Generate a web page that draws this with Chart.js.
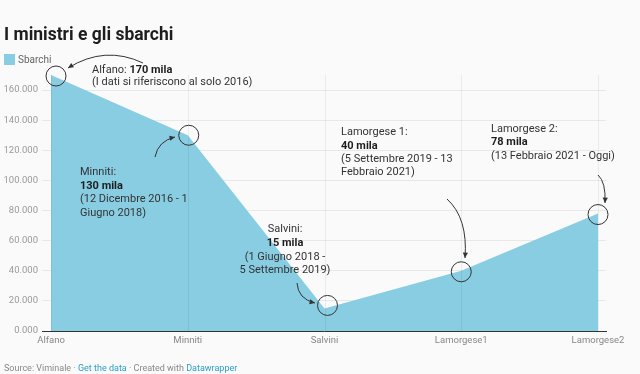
<!DOCTYPE html>
<html>
<head>
  <title>I ministri e gli sbarchi</title>
  <script src="https://cdn.jsdelivr.net/npm/chart.js"></script>
  <style>
    body { margin: 0; background: #fafafa; font-family: Roboto, sans-serif; }
    #wrap { position: relative; width: 640px; height: 374px; overflow: hidden; }
    #chartBox { position: absolute; left: 0; top: 0; width: 640px; height: 374px; }
    .title { position: absolute; left: 4px; top: 25px; font-size: 17.5px; line-height: 18px; font-weight: 700; color: #1d1d1d; white-space: nowrap; }
    .legend { position: absolute; left: 4px; top: 54px; font-size: 10px; line-height: 11px; color: #666; white-space: nowrap; }
    .legend span { display: inline-block; width: 11px; height: 11px; background: rgb(137,205,227); vertical-align: top; margin-right: 3px; }
    .footer { position: absolute; left: 4px; top: 363px; font-size: 9px; line-height: 10px; color: #888; white-space: nowrap; }
    .footer a { color: #2a9fc9; text-decoration: none; }
  </style>
</head>
<body>
<div id="wrap">
  <div id="chartBox"><canvas id="sbarchiChart"></canvas></div>
  <div class="title">I ministri e gli sbarchi</div>
  <div class="legend"><span></span>Sbarchi</div>
  <div class="footer">Source: Viminale · <a>Get the data</a> · Created with <a>Datawrapper</a></div>
</div>

<script>
  // data
  const ministri = ['Alfano', 'Minniti', 'Salvini', 'Lamorgese1', 'Lamorgese2'];
  const sbarchi = [170000, 130000, 15000, 40000, 78000];
  const yTicks = [0, 20000, 40000, 60000, 80000, 100000, 120000, 140000, 160000];

  const fillColor = 'rgb(137,205,227)';

  // notes next to each point: text lines, [text, bold] parts
  const notes = [
    { i: 0, dx: 5, dy: 1, align: 'left', x: 92, lines: [
        [70, [['Alfano: ', false], ['170 mila', true]]],
        [82, [['(I dati si riferiscono al solo 2016)', false]]]
      ], arrow: [143, 63, 105, 45, 68, 68] },
    { i: 1, dx: 1, dy: 0, align: 'left', x: 80, lines: [
        [172, [['Minniti:', false]]],
        [186, [['130 mila', true]]],
        [199, [['(12 Dicembre 2016 - 1', false]]],
        [213, [['Giugno 2018)', false]]]
      ], arrow: [155, 157, 158, 141, 175, 137] },
    { i: 2, dx: 3, dy: -3, align: 'center', x: 285, lines: [
        [229, [['Salvini:', false]]],
        [243, [['15 mila', true]]],
        [257, [['(1 Giugno 2018 -', false]]],
        [270, [['5 Settembre 2019)', false]]]
      ], arrow: [297, 283, 298, 299, 315, 303] },
    { i: 3, dx: 0, dy: 1, align: 'left', x: 341, lines: [
        [132, [['Lamorgese 1:', false]]],
        [146, [['40 mila', true]]],
        [159, [['(5 Settembre 2019 - 13', false]]],
        [172, [['Febbraio 2021)', false]]]
      ], arrow: [447, 199, 468, 218, 465, 258] },
    { i: 4, dx: 0, dy: 1, align: 'left', x: 491, lines: [
        [129, [['Lamorgese 2:', false]]],
        [142, [['78 mila', true]]],
        [156, [['(13 Febbraio 2021 - Oggi)', false]]]
      ], arrow: [598, 175, 606, 182, 605, 203] }
  ];

  const vGrid = {
    id: 'vGrid',
    afterDatasetsDraw(chart) {
      const ctx = chart.ctx, x = chart.scales.x, y = chart.scales.y;
      ctx.save();
      ctx.strokeStyle = 'rgba(0,0,0,0.06)';
      ctx.lineWidth = 1;
      const top = y.getPixelForValue(Math.max(...sbarchi));
      ministri.forEach((m, i) => {
        const px = Math.round(x.getPixelForValue(i)) + 0.5;
        ctx.beginPath();
        ctx.moveTo(px, top);
        ctx.lineTo(px, chart.chartArea.bottom);
        ctx.stroke();
      });
      ctx.restore();
    }
  };

  const noteLayer = {
    id: 'noteLayer',
    afterDraw(chart) {
      const ctx = chart.ctx, x = chart.scales.x, y = chart.scales.y;
      ctx.save();
      ctx.textBaseline = 'middle';
      notes.forEach(n => {
        // text
        n.lines.forEach(([ly, parts]) => {
          let w = 0;
          parts.forEach(([t, b]) => {
            ctx.font = (b ? '700 ' : '400 ') + '11px Roboto';
            w += ctx.measureText(t).width;
          });
          let cx = n.align === 'center' ? n.x - w / 2 : n.x;
          parts.forEach(([t, b]) => {
            ctx.font = (b ? '700 ' : '400 ') + '11px Roboto';
            ctx.fillStyle = b ? '#1d1d1d' : '#333';
            ctx.textAlign = 'left';
            ctx.fillText(t, cx, ly);
            cx += ctx.measureText(t).width;
          });
        });
        // circle on the point
        const px = x.getPixelForValue(n.i) + n.dx;
        const py = y.getPixelForValue(sbarchi[n.i]) + n.dy;
        ctx.strokeStyle = '#333';
        ctx.lineWidth = 1;
        ctx.beginPath();
        ctx.arc(px, py, 10, 0, Math.PI * 2);
        ctx.stroke();
        // curved arrow
        const [sx, sy, qx, qy, ex, ey] = n.arrow;
        ctx.beginPath();
        ctx.moveTo(sx, sy);
        ctx.quadraticCurveTo(qx, qy, ex, ey);
        ctx.stroke();
        const ang = Math.atan2(ey - qy, ex - qx);
        ctx.fillStyle = '#333';
        ctx.beginPath();
        ctx.moveTo(ex, ey);
        ctx.lineTo(ex - 6 * Math.cos(ang - 0.45), ey - 6 * Math.sin(ang - 0.45));
        ctx.lineTo(ex - 6 * Math.cos(ang + 0.45), ey - 6 * Math.sin(ang + 0.45));
        ctx.closePath();
        ctx.fill();
      });
      ctx.restore();
    }
  };

  const ctx = document.getElementById('sbarchiChart').getContext('2d');
  new Chart(ctx, {
    type: 'line',
    data: {
      datasets: [{
        label: 'Sbarchi',
        data: sbarchi.map((v, i) => ({ x: i, y: v })),
        fill: 'origin',
        backgroundColor: fillColor,
        borderWidth: 0,
        pointRadius: 0,
        tension: 0
      }]
    },
    options: {
      responsive: true,
      maintainAspectRatio: false,
      animation: false,
      layout: { padding: { top: 72, right: 34, left: 0, bottom: 0 } },
      plugins: { legend: { display: false }, tooltip: { enabled: false } },
      scales: {
        x: {
          type: 'linear',
          min: -9 / 136.75,
          max: 4 + 8 / 136.75,
          z: 1,
          grid: { display: false, drawTicks: false },
          border: { display: true, color: '#333', width: 1 },
          afterFit: s => { s.height = 43; },
          ticks: {
            stepSize: 1,
            includeBounds: false,
            autoSkip: false,
            maxRotation: 0,
            padding: 4,
            color: '#888',
            font: { family: 'Roboto', size: 9.5 },
            callback: v => Number.isInteger(v) ? ministri[v] : ''
          }
        },
        y: {
          min: 0,
          max: 172000,
          z: 1,
          afterBuildTicks: s => { s.ticks = yTicks.map(v => ({ value: v })); },
          afterFit: s => { s.width = 42; },
          grid: { color: 'rgba(0,0,0,0.07)', drawTicks: false },
          border: { display: false },
          ticks: {
            padding: 4,
            color: '#9a9a9a',
            font: { family: 'Roboto', size: 9.5 },
            callback: v => (v / 1000).toFixed(3)
          }
        }
      }
    },
    plugins: [vGrid, noteLayer]
  });
</script>
</body>
</html>
